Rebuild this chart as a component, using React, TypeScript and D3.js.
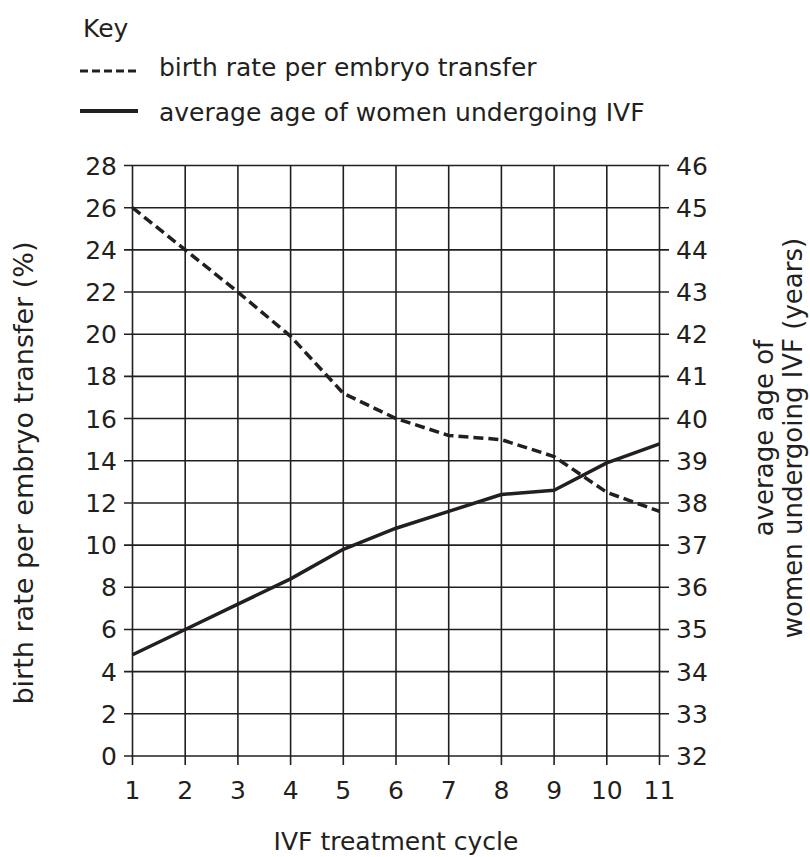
import React from "react";
import * as d3 from "d3";

const cycles = [1, 2, 3, 4, 5, 6, 7, 8, 9, 10, 11];
const birthRate = [26, 24, 22, 19.9, 17.2, 16.0, 15.2, 15.0, 14.2, 12.5, 11.6];
const averageAge = [34.4, 35.0, 35.6, 36.2, 36.9, 37.4, 37.8, 38.2, 38.3, 38.95, 39.4];
const leftTicks = d3.range(0, 29, 2);
const rightTicks = d3.range(32, 47, 1);

const FONT = "'DejaVu Sans', Verdana, sans-serif";
const INK = "#231f20";
const FS = 25;

export default function App() {
  const x = d3.scaleLinear().domain([1, 11]).range([132.5, 659.5]);
  const yL = d3.scaleLinear().domain([0, 28]).range([756, 165.5]);
  const yR = d3.scaleLinear().domain([32, 46]).range([756, 165.5]);

  const lineL = d3.line<number>().x((_, i) => x(cycles[i])).y(d => yL(d));
  const lineR = d3.line<number>().x((_, i) => x(cycles[i])).y(d => yR(d));

  return (
    <svg width={810} height={857} style={{ position: "absolute", left: 0, top: 0 }}
      fontFamily={FONT} fill={INK} fontSize={FS}>
      {/* key */}
      <text x={83} y={37}>Key</text>
      <line x1={80} x2={138} y1={71} y2={71} stroke={INK} strokeWidth={3} strokeDasharray="8,4" />
      <text x={159} y={76}>birth rate per embryo transfer</text>
      <line x1={80} x2={138} y1={111} y2={111} stroke={INK} strokeWidth={4} />
      <text x={159} y={121}>average age of women undergoing IVF</text>

      {/* grid */}
      {leftTicks.map(t => (
        <line key={"h" + t} x1={124} x2={669} y1={yL(t)} y2={yL(t)} stroke={INK} strokeWidth={1.6} />
      ))}
      {cycles.map(c => (
        <line key={"v" + c} x1={x(c)} x2={x(c)} y1={yL(28)} y2={765} stroke={INK} strokeWidth={1.6} />
      ))}

      {/* tick labels */}
      {leftTicks.map(t => (
        <text key={"l" + t} x={117} y={yL(t)} dy="0.36em" textAnchor="end">{t}</text>
      ))}
      {rightTicks.map(t => (
        <text key={"r" + t} x={676} y={yR(t)} dy="0.36em">{t}</text>
      ))}
      {cycles.map(c => (
        <text key={"b" + c} x={x(c)} y={799} textAnchor="middle">{c}</text>
      ))}

      {/* series */}
      <path d={lineL(birthRate) || ""} fill="none" stroke={INK} strokeWidth={3.5} strokeDasharray="10,5" />
      <path d={lineR(averageAge) || ""} fill="none" stroke={INK} strokeWidth={3.5} strokeLinejoin="round" />

      {/* axis titles */}
      <text transform="translate(33,473) rotate(-90)" textAnchor="middle" fontSize={27}>
        birth rate per embryo transfer (%)
      </text>
      <text transform="translate(773,438) rotate(-90)" textAnchor="middle" fontSize={26}>
        average age of
      </text>
      <text transform="translate(802,438) rotate(-90)" textAnchor="middle" fontSize={26}>
        women undergoing IVF (years)
      </text>
      <text x={396} y={850} textAnchor="middle">IVF treatment cycle</text>
    </svg>
  );
}
